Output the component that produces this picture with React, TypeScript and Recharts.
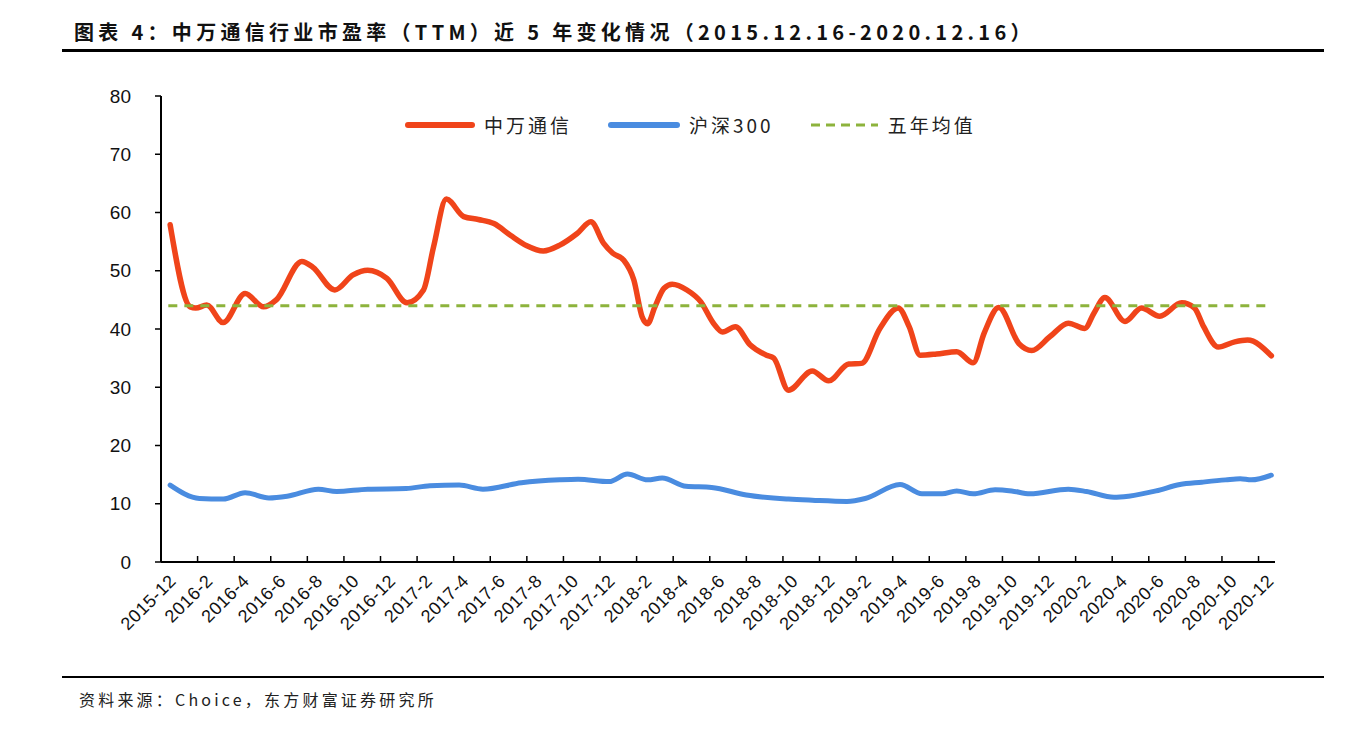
import React from "react";
import { LineChart, Line, XAxis, YAxis, ReferenceLine, Legend } from "recharts";

// x values are months counted from 2015-12 (0 = start of 2015-12)
const tickLabels = [
  "2015-12", "2016-2", "2016-4", "2016-6", "2016-8", "2016-10", "2016-12",
  "2017-2", "2017-4", "2017-6", "2017-8", "2017-10", "2017-12",
  "2018-2", "2018-4", "2018-6", "2018-8", "2018-10", "2018-12",
  "2019-2", "2019-4", "2019-6", "2019-8", "2019-10", "2019-12",
  "2020-2", "2020-4", "2020-6", "2020-8", "2020-10", "2020-12",
];

// 申万通信 PE(TTM)
const swMonths = [
  0.5, 1.6, 1.9, 2.5, 3.4, 4.6, 5.6, 6.3, 7.7, 8.3, 9.5, 10.5, 11.3, 12.35,
  13.45, 14.35, 14.9, 15.6, 16.55, 17.35, 18.2, 19.1, 20.0, 20.9, 21.8, 22.75,
  23.5, 24.2, 24.7, 25.3, 25.85, 26.3, 26.6, 27.0, 27.5, 27.95, 28.75, 29.5,
  30.2, 30.7, 31.4, 32.2, 33.1, 33.5, 34.3, 35.6, 36.5, 37.6, 38.3, 39.3,
  40.3, 40.9, 41.5, 42.4, 43.5, 44.4, 45.0, 45.8, 46.9, 47.6, 48.6, 49.6,
  50.5, 51.0, 51.6, 52.7, 53.6, 54.6, 55.8, 56.5, 57.0, 57.8, 58.7, 59.4, 60.7,
];
const swPE = [
  57.9, 43.8, 43.6, 44.1, 41.1, 46.1, 43.8, 45.0, 51.6, 50.6, 46.7, 49.3, 50.1, 48.7,
  44.5, 46.7, 54.1, 62.3, 59.3, 58.8, 58.1, 56.1, 54.3, 53.4, 54.4, 56.4,
  58.4, 54.7, 53.0, 51.8, 48.4, 42.1, 40.9, 43.8, 47.0, 47.7, 46.7, 44.7,
  41.0, 39.5, 40.4, 37.3, 35.5, 35.0, 29.5, 32.8, 31.1, 34.0, 34.1, 40.1,
  43.6, 40.4, 35.5, 35.7, 36.1, 34.2, 39.3, 43.7, 37.5, 36.3, 38.7, 41.0,
  40.1, 42.7, 45.4, 41.3, 43.6, 42.2, 44.5, 43.6, 40.4, 36.9, 37.8, 38.1, 35.4,
];

// 沪深300 PE(TTM)
const hsMonths = [
  0.5, 2.1, 3.4, 4.6, 5.9, 6.9, 8.6, 9.6, 11.3, 13.4, 14.7, 16.3, 17.6, 19.7,
  21.8, 22.8, 24.5, 25.5, 26.6, 27.4, 28.7, 30.1, 32.0, 34.3, 35.6, 37.5,
  38.5, 40.4, 41.6, 42.7, 43.5, 44.4, 45.6, 46.5, 47.5, 49.6, 50.6, 52.1,
  52.9, 54.4, 55.7, 56.9, 58.2, 59.0, 59.6, 60.7,
];
const hsPE = [
  13.2, 10.9, 10.8, 11.9, 11.0, 11.3, 12.5, 12.1, 12.5, 12.6, 13.1, 13.2, 12.5, 13.6,
  14.1, 14.2, 13.8, 15.1, 14.1, 14.4, 13.0, 12.8, 11.5, 10.8, 10.6, 10.4,
  10.9, 13.3, 11.7, 11.7, 12.2, 11.7, 12.4, 12.2, 11.7, 12.5, 12.1, 11.1,
  11.3, 12.2, 13.3, 13.7, 14.1, 14.3, 14.1, 14.9,
];

const fiveYearAvg = 44.0;
const yTicks = [0, 10, 20, 30, 40, 50, 60, 70, 80];

const swData = swMonths.map((m, i) => ({ m, sw: swPE[i] }));
const hsData = hsMonths.map((m, i) => ({ m, hs: hsPE[i] }));
const xTicks = tickLabels.map((_, i) => i * 2);

const RED = "#F0441A";
const BLUE = "#4A8CE0";
const GREEN = "#8DB33C";
const CJK = '"Noto Sans CJK SC", "Noto Sans", sans-serif';

const W = 1356;
const H = 730;
const PLOT_LEFT = 161;
const PLOT_RIGHT = 1275;
const PLOT_TOP = 96;
const PLOT_BOTTOM = 562;
const X_MAX = 60.9;
const monthPx = (PLOT_RIGHT - PLOT_LEFT) / X_MAX;

const XTick = (props: any) => {
  const { payload, index } = props;
  const x = payload.coordinate;
  return (
    <g>
      {index > 0 && (
        <line x1={x} x2={x} y1={PLOT_BOTTOM} y2={PLOT_BOTTOM - 6} stroke="#000" strokeWidth={1.5} />
      )}
      <text
        transform={`translate(${x + monthPx - 2}, ${PLOT_BOTTOM + 20}) rotate(-45)`}
        textAnchor="end"
        fontSize={18}
        fontFamily="Liberation Sans, Arial, sans-serif"
        letterSpacing={0.5}
        fill="#111"
      >
        {tickLabels[index]}
      </text>
    </g>
  );
};

const LegendContent = () => {
  const items = [
    { name: "中万通信", color: RED, len: 70, dashed: false },
    { name: "沪深300", color: BLUE, len: 72, dashed: false },
    { name: "五年均值", color: GREEN, len: 69, dashed: true },
  ];
  return (
    <div style={{ display: "flex", alignItems: "center", whiteSpace: "nowrap" }}>
      {items.map((it) => (
        <div key={it.name} style={{ display: "flex", alignItems: "center", marginRight: 36 }}>
          <svg width={it.len} height={8} style={{ marginRight: 9 }}>
            <line
              x1={it.dashed ? 1 : 3}
              x2={it.len - (it.dashed ? 1 : 3)}
              y1={4}
              y2={4}
              stroke={it.color}
              strokeWidth={it.dashed ? 3 : 6}
              strokeLinecap={it.dashed ? "butt" : "round"}
              strokeDasharray={it.dashed ? "9 6" : undefined}
            />
          </svg>
          <span style={{ fontFamily: CJK, fontSize: 19, letterSpacing: 3, color: "#222" }}>{it.name}</span>
        </div>
      ))}
    </div>
  );
};

export default function App() {
  return (
    <div style={{ position: "absolute", left: 0, top: 0, width: W, height: H, background: "#fff", overflow: "hidden" }}>
      <div
        style={{
          position: "absolute",
          left: 74,
          top: 19,
          fontFamily: CJK,
          fontWeight: 700,
          fontSize: 20,
          letterSpacing: 4.3,
          color: "#111",
          whiteSpace: "nowrap",
          lineHeight: "26px",
        }}
      >
        图表 4：中万通信行业市盈率（TTM）近 5 年变化情况（2015.12.16-2020.12.16）
      </div>
      <div style={{ position: "absolute", left: 62, top: 49, width: 1262, height: 3, background: "#000" }} />

      <div style={{ position: "absolute", left: 0, top: 0 }}>
        <LineChart
          width={W}
          height={H}
          margin={{ top: PLOT_TOP, left: PLOT_LEFT - 50, right: W - PLOT_RIGHT, bottom: H - PLOT_BOTTOM - 80 }}
        >
          <XAxis
            dataKey="m"
            type="number"
            domain={[0, X_MAX]}
            ticks={xTicks}
            interval={0}
            allowDuplicatedCategory={false}
            axisLine={{ stroke: "#000", strokeWidth: 2 }}
            tickLine={false}
            tick={<XTick />}
            height={80}
          />
          <YAxis
            type="number"
            domain={[0, 80]}
            ticks={yTicks}
            interval={0}
            width={50}
            axisLine={{ stroke: "#000", strokeWidth: 2 }}
            tickLine={{ stroke: "#000", strokeWidth: 1.5 }}
            tickSize={6}
            tickMargin={24}
            tick={{ fill: "#111", fontSize: 19, fontFamily: "Liberation Sans, Arial, sans-serif" }}
          />
          <Legend
            layout="vertical"
            align="center"
            verticalAlign="middle"
            wrapperStyle={{ top: 111, left: 405, width: "auto" }}
            content={<LegendContent />}
          />
          <Line
            data={swData}
            dataKey="sw"
            name="中万通信"
            type="monotone"
            stroke={RED}
            strokeWidth={5.5}
            dot={false}
            strokeLinecap="round"
            isAnimationActive={false}
          />
          <Line
            data={hsData}
            dataKey="hs"
            name="沪深300"
            type="monotone"
            stroke={BLUE}
            strokeWidth={5}
            dot={false}
            strokeLinecap="round"
            isAnimationActive={false}
          />
          <ReferenceLine
            segment={[
              { x: 0.4, y: fiveYearAvg },
              { x: 60.7, y: fiveYearAvg },
            ]}
            stroke={GREEN}
            strokeWidth={3}
            strokeDasharray="9 7"
          />
        </LineChart>
      </div>

      <div style={{ position: "absolute", left: 62, top: 676, width: 1262, height: 2, background: "#000" }} />
      <div
        style={{
          position: "absolute",
          left: 79,
          top: 688,
          fontFamily: CJK,
          fontSize: 16,
          letterSpacing: 3.2,
          color: "#222",
          whiteSpace: "nowrap",
          lineHeight: "22px",
        }}
      >
        资料来源：Choice，东方财富证券研究所
      </div>
    </div>
  );
}
